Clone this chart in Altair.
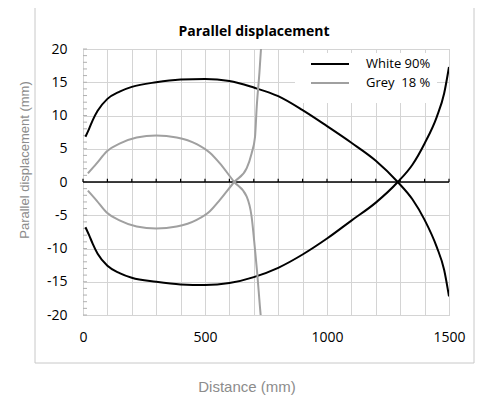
import altair as alt
import pandas as pd

# ---- data ----
series_names = ["White 90%", "Grey \u00a018 %"]
series_colors = ["#000000", "#a0a0a0"]

white_x = [10, 25, 40, 60, 100, 150, 200, 300, 400, 500, 600, 700, 800, 900, 1000, 1100, 1200, 1290, 1350, 1400, 1450, 1480, 1500]
white_upper = [6.8, 8.0, 9.3, 10.7, 12.5, 13.6, 14.3, 15.0, 15.4, 15.5, 15.2, 14.2, 12.9, 10.8, 8.4, 5.9, 3.2, 0.0, -2.6, -5.7, -9.8, -13.2, -17.2]
white_lower = [-6.8, -8.0, -9.3, -10.8, -12.6, -13.7, -14.4, -15.0, -15.4, -15.5, -15.2, -14.3, -12.9, -10.9, -8.5, -5.8, -3.1, 0.0, 2.6, 5.8, 9.8, 13.3, 17.3]

grey_x_upper = [20, 56, 97, 152, 220, 300, 384, 466, 520, 561, 620, 671, 691, 705, 714, 725, 733]
grey_upper = [1.3, 2.8, 4.6, 5.8, 6.7, 7.0, 6.7, 5.7, 4.4, 2.8, 0.0, -2.2, -5.2, -10.2, -13.7, -18.7, -22.0]
grey_x_lower = [20, 56, 97, 152, 220, 300, 384, 466, 520, 561, 620, 671, 691, 705, 712, 723, 733]
grey_lower = [-1.3, -2.8, -4.6, -5.8, -6.7, -7.0, -6.7, -5.7, -4.4, -2.7, 0.0, 2.1, 4.3, 6.8, 11.3, 16.4, 22.0]

x_grid = list(range(0, 1600, 100))
y_grid = list(range(-20, 25, 5))
y_minor = list(range(-20, 21))

chart_title = "Parallel displacement"
x_title = "Distance (mm)"
y_title = "Parallel displacement (mm)"

rows = []
for xs, ys, s, g in [
    (white_x, white_upper, series_names[0], "w_up"),
    (white_x, white_lower, series_names[0], "w_lo"),
    (grey_x_upper, grey_upper, series_names[1], "g_up"),
    (grey_x_lower, grey_lower, series_names[1], "g_lo"),
]:
    for i, (xv, yv) in enumerate(zip(xs, ys)):
        rows.append({"x": xv, "y": yv, "series": s, "group": g, "idx": i})
df = pd.DataFrame(rows)

W, H = 366, 266
xscale = alt.Scale(domain=[0, 1500], nice=False, zero=False)
yscale = alt.Scale(domain=[-20, 20], nice=False, zero=False)

xaxis = alt.Axis(
    values=x_grid, labelExpr="datum.value % 500 == 0 ? '' + datum.value : ''",
    ticks=False, domain=False, grid=True, gridColor="#d4d4d4", gridWidth=1,
    labelFont="Open Sans", labelFontSize=14, labelColor="#000", labelPadding=15,
    labelFlush=False, labelOverlap=False, title=None)
yaxis = alt.Axis(
    values=y_grid, labelExpr="'' + datum.value",
    ticks=False, domain=False, grid=True, gridColor="#d4d4d4", gridWidth=1,
    labelFont="Open Sans", labelFontSize=14, labelColor="#000", labelPadding=16,
    labelOverlap=False, title=None)

one = pd.DataFrame({"x": [0]})

# outer chart-area box
outer = alt.Chart(one).mark_rect(
    fill=None, stroke="#c8c8c8", strokeWidth=1
).encode(x=alt.value(-48), x2=alt.value(391), y=alt.value(-42), y2=alt.value(314))

# titles
title_t = alt.Chart(one).mark_text(
    text=chart_title, font="Open Sans", fontSize=14, fontWeight="bold", color="#000",
    align="center", baseline="middle").encode(x=alt.value(171), y=alt.value(-17))
xtitle_t = alt.Chart(one).mark_text(
    text=x_title, font="Liberation Sans", fontSize=15, color="#8c8c8c",
    align="center", baseline="alphabetic").encode(x=alt.value(164), y=alt.value(343))
ytitle_t = alt.Chart(one).mark_text(
    text=y_title, font="Liberation Sans", fontSize=13, color="#8c8c8c", angle=270,
    align="center", baseline="middle").encode(x=alt.value(-58), y=alt.value(111))

# legend background
legend_bg = alt.Chart(one).mark_rect(fill="white").encode(
    x=alt.value(212), x2=alt.value(354), y=alt.value(4), y2=alt.value(54))

# minor ticks on left edge
yticks = alt.Chart(pd.DataFrame({"y": y_minor})).mark_rule(color="#b0b0b0", strokeWidth=1).encode(
    y=alt.Y("y:Q", scale=yscale, axis=yaxis), x=alt.value(0), x2=alt.value(4))

# horizontal axis at zero with ticks
zero_line = alt.Chart(pd.DataFrame({"x": [0], "x2": [1500], "y": [0]})).mark_rule(
    color="black", strokeWidth=1.5).encode(
    x=alt.X("x:Q", scale=xscale, axis=xaxis), x2="x2:Q", y=alt.Y("y:Q", scale=yscale, axis=yaxis))
zero_ticks = alt.Chart(pd.DataFrame({"x": x_grid, "y": [0] * len(x_grid), "y2": [0.5] * len(x_grid)})).mark_rule(
    color="black", strokeWidth=1.2).encode(
    x=alt.X("x:Q", scale=xscale, axis=xaxis), y=alt.Y("y:Q", scale=yscale, axis=yaxis), y2="y2:Q")

lines = alt.Chart(df).mark_line(clip=True, interpolate="monotone", strokeWidth=2).encode(
    x=alt.X("x:Q", scale=xscale, axis=xaxis),
    y=alt.Y("y:Q", scale=yscale, axis=yaxis),
    color=alt.Color("series:N", scale=alt.Scale(domain=series_names, range=series_colors), legend=None),
    detail="group:N",
    order="idx:Q",
)

leg_df = pd.DataFrame({"series": series_names})
leg_layers = []
for i, (name, col) in enumerate(zip(series_names, series_colors)):
    yy = 15 + 19 * i
    leg_layers.append(
        alt.Chart(leg_df).transform_filter(alt.datum.series == name).mark_rule(color=col, strokeWidth=2).encode(
            x=alt.value(228), x2=alt.value(266), y=alt.value(yy)))
    leg_layers.append(
        alt.Chart(leg_df).transform_filter(alt.datum.series == name).mark_text(
            align="left", baseline="middle", font="Open Sans", fontSize=13, color="#000").encode(
            x=alt.value(283), y=alt.value(yy), text="series:N"))

chart = alt.layer(
    yticks, outer, title_t, xtitle_t, ytitle_t, legend_bg, zero_line, zero_ticks, lines, *leg_layers
).properties(
    width=W, height=H,
    autosize=alt.AutoSizeParams(type="none"),
    padding={"left": 75, "top": 41, "right": 28, "bottom": 80},
).configure_view(stroke="#bfbfbf", strokeWidth=1)

chart.save("out.html", embed_options={"renderer": "svg", "actions": False})
